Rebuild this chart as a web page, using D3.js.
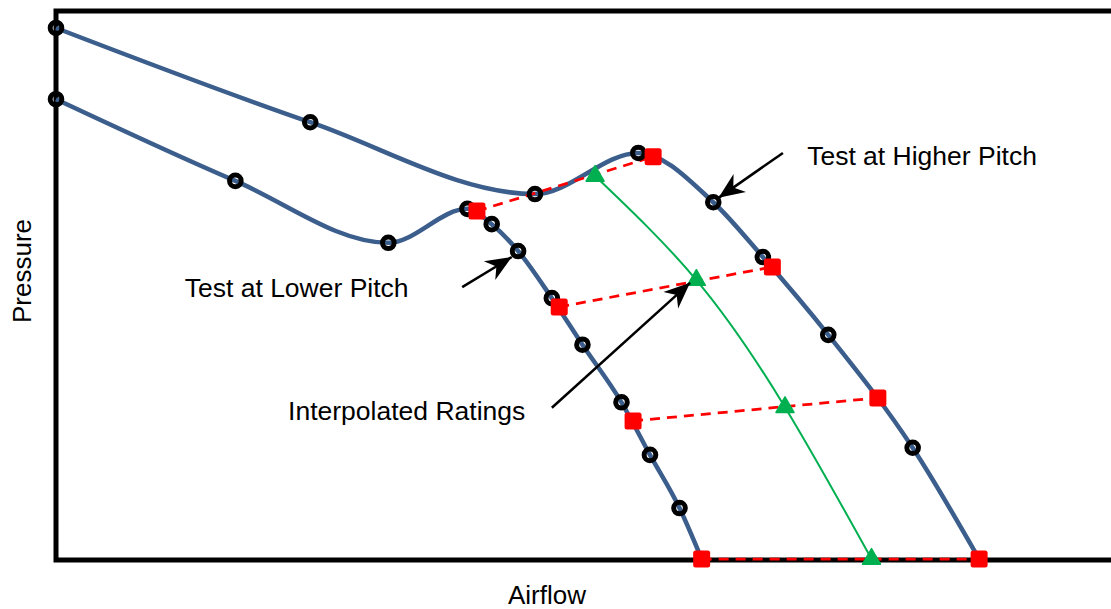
<!DOCTYPE html>
<html>
<head>
<meta charset="utf-8">
<script src="https://cdn.jsdelivr.net/npm/d3@7"></script>
<style>
  html, body { margin: 0; padding: 0; background: #fff; }
  svg { display: block; font-family: "Liberation Sans", Arial, sans-serif; }
</style>
</head>
<body>
<svg id="chart" width="1111" height="609"></svg>
<script>
// ---- data (airflow, pressure in arbitrary units) ----
const higherTestAirflow  = [0.0, 24.1, 45.4, 55.2, 62.3, 67.0, 73.2, 81.2];
const higherTestPressure = [96.9, 79.7, 66.6, 74.1, 65.1, 55.1, 40.9, 20.3];
const higherCurveEnd     = [87.5, 0.0];

const lowerTestAirflow  = [0.0, 17.0, 31.5, 39.0, 41.3, 43.8, 47.0, 49.9, 53.6, 56.3, 59.1];
const lowerTestPressure = [83.9, 69.0, 57.7, 63.9, 61.1, 56.2, 47.6, 39.1, 28.6, 19.0, 9.3];
const lowerCurveEnd     = [61.2, 0.0];

const lowerRatingAirflow   = [39.9, 47.7, 54.7, 61.2];
const lowerRatingPressure  = [63.5, 46.0, 25.2, 0.0];
const higherRatingAirflow  = [56.6, 67.9, 77.9, 87.5];
const higherRatingPressure = [73.4, 53.3, 29.4, 0.0];
const interpAirflow  = [51.1, 60.7, 69.1, 77.3];
const interpPressure = [69.9, 50.9, 27.7, 0.0];

const annotationLabels = ["Test at Higher Pitch", "Test at Lower Pitch", "Interpolated Ratings"];
const annotationTextAt = [[71.2, 71.9], [12.2, 47.8], [22.0, 25.4]];
const arrowFrom = [[68.9, 74.1], [38.5, 49.6], [47.0, 27.6]];
const arrowTo   = [[62.8, 65.9], [43.2, 55.1], [60.1, 50.4]];

const xTitle = "Airflow";
const yTitle = "Pressure";

// ---- layout ----
const svg = d3.select("#chart");
const x = d3.scaleLinear().domain([0, 100]).range([56, 1111]);
const y = d3.scaleLinear().domain([0, 100]).range([559, 11]);

const blue = "#3b5e8c", red = "#ff0000", green = "#00b050";

// arrow marker
const defs = svg.append("defs");
defs.append("marker")
  .attr("id", "arrowhead")
  .attr("markerUnits", "userSpaceOnUse")
  .attr("viewBox", "-26 -12 28 24")
  .attr("refX", 0).attr("refY", 0)
  .attr("markerWidth", 28).attr("markerHeight", 24)
  .attr("orient", "auto")
  .append("path")
  .attr("d", "M0,0 L-26,-11 L-18,0 L-26,11 Z")
  .attr("fill", "#000");

// frame (top, left, bottom)
svg.append("path")
  .attr("d", `M${x(100) + 5},${y(100)} L${x(0)},${y(100)} L${x(0)},${y(0) + 1} L${x(100) + 5},${y(0) + 1}`)
  .attr("fill", "none").attr("stroke", "#000").attr("stroke-width", 5);

const zip = (a, b) => a.map((v, i) => [v, b[i]]);
const higherCurve = zip(higherTestAirflow, higherTestPressure).concat([higherCurveEnd]);
const lowerCurve = zip(lowerTestAirflow, lowerTestPressure).concat([lowerCurveEnd]);

const lineMono = d3.line().x(d => x(d[0])).y(d => y(d[1])).curve(d3.curveMonotoneX);
const lineNat = d3.line().x(d => x(d[0])).y(d => y(d[1])).curve(d3.curveNatural);

svg.append("path").datum(higherCurve).attr("d", lineMono)
  .attr("fill", "none").attr("stroke", blue).attr("stroke-width", 4.5);
svg.append("path").datum(lowerCurve).attr("d", lineMono)
  .attr("fill", "none").attr("stroke", blue).attr("stroke-width", 4.5);

// interpolated (green) curve
const interp = zip(interpAirflow, interpPressure);
svg.append("path").datum(interp).attr("d", lineNat)
  .attr("fill", "none").attr("stroke", green).attr("stroke-width", 2);

// red dashed rating connectors
const lowR = zip(lowerRatingAirflow, lowerRatingPressure);
const highR = zip(higherRatingAirflow, higherRatingPressure);
svg.append("g").selectAll("line").data(lowR).join("line")
  .attr("x1", d => x(d[0])).attr("y1", d => y(d[1]))
  .attr("x2", (d, i) => x(highR[i][0])).attr("y2", (d, i) => y(highR[i][1]))
  .attr("stroke", red).attr("stroke-width", 2.75).attr("stroke-dasharray", "10,7");

// test point circles
const circles = zip(higherTestAirflow, higherTestPressure).concat(zip(lowerTestAirflow, lowerTestPressure));
svg.append("g").selectAll("circle").data(circles).join("circle")
  .attr("cx", d => x(d[0])).attr("cy", d => y(d[1])).attr("r", 5.8)
  .attr("fill", "none").attr("stroke", "#000").attr("stroke-width", 5);

// rating squares
svg.append("g").selectAll("rect").data(lowR.concat(highR)).join("rect")
  .attr("x", d => x(d[0]) - 8.5).attr("y", d => y(d[1]) - 8.5)
  .attr("width", 17).attr("height", 17).attr("rx", 2.5)
  .attr("fill", red);

// interpolated triangles
const tri = d3.symbol().type(d3.symbolTriangle).size(140);
svg.append("g").selectAll("path").data(interp).join("path")
  .attr("d", tri)
  .attr("transform", d => `translate(${x(d[0])},${y(d[1])})`)
  .attr("fill", green).attr("stroke", green).attr("stroke-width", 1.5).attr("stroke-linejoin", "round");

// annotation arrows
svg.append("g").selectAll("line").data(arrowFrom).join("line")
  .attr("x1", d => x(d[0])).attr("y1", d => y(d[1]))
  .attr("x2", (d, i) => x(arrowTo[i][0])).attr("y2", (d, i) => y(arrowTo[i][1]))
  .attr("stroke", "#000").attr("stroke-width", 2.5)
  .attr("marker-end", "url(#arrowhead)");

// annotation labels
svg.append("g").selectAll("text").data(annotationLabels).join("text")
  .attr("x", (d, i) => x(annotationTextAt[i][0]))
  .attr("y", (d, i) => y(annotationTextAt[i][1]))
  .attr("font-size", 26.5).attr("fill", "#000")
  .text(d => d);

// axis titles
svg.append("text").attr("x", 547).attr("y", 604)
  .attr("text-anchor", "middle").attr("font-size", 26).text(xTitle);
svg.append("text")
  .attr("transform", "translate(31,271) rotate(-90)")
  .attr("text-anchor", "middle").attr("font-size", 26).text(yTitle);
</script>
</body>
</html>
